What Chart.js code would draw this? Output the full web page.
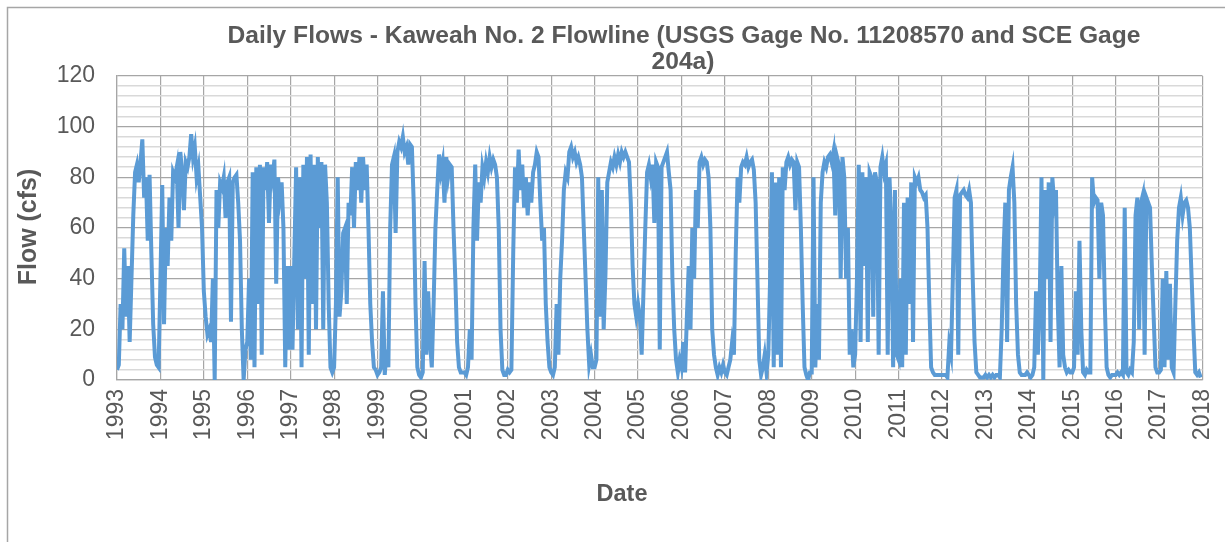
<!DOCTYPE html>
<html>
<head>
<meta charset="utf-8">
<script src="https://cdn.jsdelivr.net/npm/chart.js@4.4.0/dist/chart.umd.min.js"></script>
<style>
  html, body { margin: 0; padding: 0; background: #fff; overflow: hidden; }
  #wrap { width: 1225px; height: 542px; position: relative; }
</style>
</head>
<body>
<div id="wrap"><canvas id="flowChart"></canvas></div>
<script>
// Daily flow readings, roughly two per month (cfs)
const flow1993 = [4, 6, 30, 20, 52, 25, 45, 15, 40, 65, 82, 85, 78, 86, 95, 72, 80, 55, 81, 50, 22, 9, 6, 5];
const flow1994 = [40, 77, 22, 60, 45, 72, 55, 82, 80, 84, 60, 90, 82, 67, 86, 84, 88, 97, 88, 92, 80, 84, 72, 60];
const flow1995 = [35, 25, 18, 20, 15, 40, 0, 75, 60, 78, 76, 80, 64, 78, 80, 23, 78, 80, 81, 70, 55, 20, 0, 12];
const flow1996 = [15, 40, 8, 82, 5, 84, 30, 85, 10, 84, 75, 86, 62, 85, 80, 87, 38, 80, 72, 78, 60, 5, 45, 12];
const flow1997 = [45, 12, 48, 84, 20, 80, 5, 85, 40, 88, 10, 89, 30, 85, 20, 88, 60, 86, 20, 85, 70, 30, 5, 3];
const flow1998 = [5, 30, 80, 25, 35, 58, 60, 30, 70, 65, 84, 60, 86, 75, 88, 70, 88, 75, 85, 60, 30, 15, 5, 4];
const flow1999 = [2, 3, 5, 35, 2, 12, 5, 60, 85, 88, 58, 90, 94, 92, 96, 90, 92, 85, 93, 92, 70, 30, 5, 2];
const flow2000 = [1, 3, 47, 10, 35, 15, 5, 30, 60, 75, 89, 82, 86, 70, 88, 80, 85, 84, 60, 40, 15, 5, 3, 3];
const flow2001 = [3, 2, 5, 20, 8, 60, 85, 55, 78, 70, 84, 80, 86, 82, 88, 84, 87, 85, 80, 60, 20, 4, 2, 2];
const flow2002 = [4, 3, 4, 50, 84, 70, 91, 75, 85, 68, 80, 65, 78, 70, 82, 85, 90, 88, 70, 55, 60, 30, 15, 5];
const flow2003 = [3, 2, 5, 30, 10, 40, 55, 75, 82, 80, 90, 92, 88, 90, 86, 88, 85, 80, 60, 40, 20, 6, 10, 5];
const flow2004 = [5, 8, 80, 25, 75, 20, 42, 78, 82, 86, 84, 88, 85, 89, 86, 90, 88, 90, 88, 86, 70, 45, 30, 25];
const flow2005 = [30, 25, 10, 35, 60, 82, 85, 80, 85, 62, 86, 84, 12, 84, 86, 88, 90, 82, 75, 40, 20, 8, 3, 8];
const flow2006 = [5, 15, 3, 25, 45, 20, 60, 40, 75, 60, 86, 88, 85, 87, 86, 80, 60, 20, 10, 5, 2, 5, 3, 6];
const flow2007 = [3, 2, 5, 8, 15, 10, 50, 80, 70, 84, 86, 85, 88, 84, 86, 87, 83, 70, 40, 8, 2, 5, 10, 3];
const flow2008 = [10, 40, 82, 5, 78, 10, 80, 5, 84, 75, 86, 88, 85, 87, 86, 67, 86, 84, 60, 30, 5, 2, 0, 3];
const flow2009 = [3, 80, 5, 30, 8, 70, 82, 86, 84, 88, 89, 86, 90, 65, 88, 85, 40, 88, 80, 40, 60, 10, 20, 5];
const flow2010 = [10, 40, 85, 15, 82, 45, 80, 15, 82, 80, 25, 82, 78, 10, 84, 88, 82, 85, 10, 80, 60, 5, 75, 10];
const flow2011 = [8, 40, 5, 70, 10, 72, 30, 78, 15, 80, 78, 80, 75, 74, 72, 73, 60, 30, 5, 3, 2, 2, 2, 2];
const flow2012 = [2, 2, 2, 1, 14, 10, 40, 72, 75, 10, 73, 74, 75, 73, 72, 75, 70, 40, 15, 3, 2, 1, 1, 1];
const flow2013 = [2, 1, 2, 1, 2, 1, 2, 2, 1, 20, 50, 70, 15, 75, 80, 84, 70, 30, 10, 3, 2, 2, 2, 3];
const flow2014 = [2, 1, 2, 5, 35, 10, 30, 80, 0, 75, 40, 78, 15, 80, 70, 75, 30, 5, 45, 10, 5, 3, 4, 3];
const flow2015 = [3, 5, 35, 10, 55, 20, 3, 2, 4, 3, 3, 80, 70, 72, 71, 40, 70, 65, 30, 5, 2, 1, 2, 2];
const flow2016 = [2, 3, 2, 3, 2, 68, 3, 2, 4, 3, 15, 65, 72, 20, 70, 73, 10, 72, 70, 68, 45, 25, 5, 3];
const flow2017 = [3, 4, 40, 5, 43, 8, 38, 5, 3, 30, 55, 68, 72, 65, 70, 71, 68, 60, 40, 20, 3, 2, 3, 1];

const flowYears = [1993, 1994, 1995, 1996, 1997, 1998, 1999, 2000, 2001, 2002, 2003, 2004, 2005,
                   2006, 2007, 2008, 2009, 2010, 2011, 2012, 2013, 2014, 2015, 2016, 2017];
const flowSeries = [flow1993, flow1994, flow1995, flow1996, flow1997, flow1998, flow1999, flow2000,
                    flow2001, flow2002, flow2003, flow2004, flow2005, flow2006, flow2007, flow2008,
                    flow2009, flow2010, flow2011, flow2012, flow2013, flow2014, flow2015, flow2016, flow2017];

const chartTitle = ['Daily Flows - Kaweah No. 2 Flowline (USGS Gage No. 11208570 and SCE Gage', '204a)'];
const yTitle = 'Flow (cfs)';
const xTitle = 'Date';

// spread each year's readings evenly across that year
const flowPoints = [];
flowSeries.forEach((vals, k) => {
    vals.forEach((v, i) => flowPoints.push({ x: flowYears[k] + i / vals.length, y: v }));
});

const textGrey = '#595959';
const fontName = '"Liberation Sans", Arial, sans-serif';

// outer frame + title + axis titles (Excel style placement)
const framePlugin = {
    id: 'framePlugin',
    beforeDraw(chart) {
        const ctx = chart.ctx;
        ctx.save();
        ctx.fillStyle = '#fff';
        ctx.fillRect(0, 0, chart.width, chart.height);
        ctx.strokeStyle = '#a6a6a6';
        ctx.lineWidth = 1.5;
        ctx.beginPath();
        ctx.moveTo(7.5, chart.height);
        ctx.lineTo(7.5, 7.5);
        ctx.lineTo(chart.width, 7.5);
        ctx.stroke();
        ctx.restore();
    },
    afterDraw(chart) {
        const ctx = chart.ctx;
        ctx.save();
        ctx.fillStyle = textGrey;
        ctx.textAlign = 'center';
        ctx.textBaseline = 'middle';
        ctx.font = 'bold 24.6px ' + fontName;
        ctx.fillText(chartTitle[0], 684, 36);
        ctx.fillText(chartTitle[1], 683, 62);
        ctx.font = 'bold 23.5px ' + fontName;
        ctx.fillText(xTitle, 622, 495);
        ctx.font = 'bold 25px ' + fontName;
        ctx.translate(29, 227);
        ctx.rotate(-Math.PI / 2);
        ctx.fillText(yTitle, 0, 0);
        ctx.restore();
    }
};

const ctxFlow = document.getElementById('flowChart').getContext('2d');
const flowChart = new Chart(ctxFlow, {
    type: 'line',
    data: {
        datasets: [{
            label: 'Flow',
            data: flowPoints,
            borderColor: '#5B9BD5',
            backgroundColor: '#5B9BD5',
            borderWidth: 4,
            pointRadius: 0,
            tension: 0,
            fill: false,
        }]
    },
    options: {
        responsive: true,
        maintainAspectRatio: false,
        animation: false,
        layout: { padding: { left: 0, top: 76, right: 22.5, bottom: 0 } },
        plugins: {
            legend: { display: false },
            title: { display: false },
            tooltip: { enabled: false },
        },
        scales: {
            x: {
                type: 'linear',
                min: 1993,
                max: 2018,
                afterFit: (scale) => {
                    scale.height = 162;
                    scale.paddingLeft = 0;
                    scale.paddingRight = 0;
                },
                grid: { color: '#a6a6a6', lineWidth: 1.2, drawTicks: false },
                border: { color: '#a6a6a6', width: 1.2 },
                ticks: {
                    stepSize: 1,
                    autoSkip: false,
                    minRotation: 90,
                    maxRotation: 90,
                    padding: 9,
                    color: textGrey,
                    font: { family: fontName, size: 23 },
                    callback: (v) => String(v),
                },
            },
            y: {
                min: 0,
                max: 120,
                afterFit: (scale) => {
                    scale.width = 117;
                    scale.paddingTop = 0;
                    scale.paddingBottom = 0;
                },
                grid: {
                    drawTicks: false,
                    color: (c) => (c.tick && c.tick.value % 20 === 0) ? '#a6a6a6' : '#d9d9d9',
                    lineWidth: (c) => (c.tick && c.tick.value % 20 === 0) ? 1.2 : 1.6,
                },
                border: { color: '#a6a6a6', width: 1.2 },
                ticks: {
                    stepSize: 4,
                    autoSkip: false,
                    padding: 22,
                    color: textGrey,
                    font: { family: fontName, size: 23 },
                    callback: (v) => (v % 20 === 0 ? v : ''),
                },
            },
        },
    },
    plugins: [framePlugin],
});
</script>
</body>
</html>
